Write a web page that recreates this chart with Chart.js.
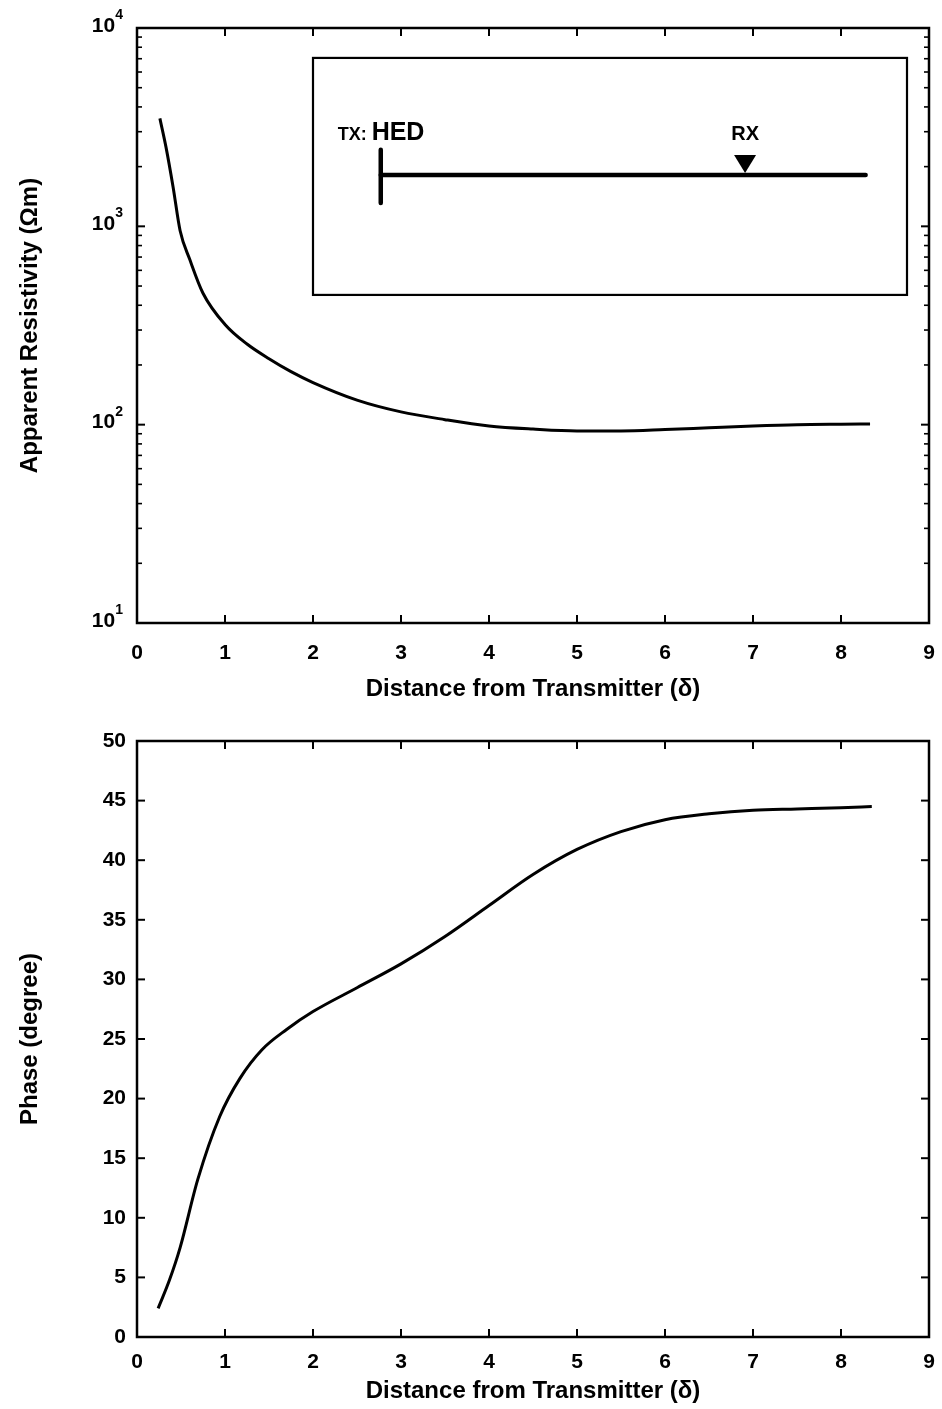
<!DOCTYPE html>
<html><head><meta charset="utf-8">
<script src="https://cdn.jsdelivr.net/npm/chart.js@4/dist/chart.umd.min.js"></script>
<style>
html,body{margin:0;padding:0;background:#fff;}
#wrap{position:relative;width:942px;height:1409px;background:#fff;}
.box{position:absolute;left:0;width:942px;}
canvas{display:block;}
</style></head><body>
<div id="wrap">
<div class="box" style="top:0;height:705px"><canvas id="c1" width="942" height="705"></canvas></div>
<div class="box" style="top:705px;height:704px"><canvas id="c2" width="942" height="704"></canvas></div>
</div>
<script>
// ---- data ----
const distanceRes = [0.26,0.33,0.41,0.49,0.60,0.75,1.0,1.25,1.5,1.75,2.0,2.5,3.0,3.5,4.0,4.5,5.0,5.5,6.0,6.5,7.0,7.5,8.0,8.33];
const resistivity = [3500,2500,1580,950,680,460,320,255,215,185,163,133,116,106,98.5,95,93,93,94.5,96.5,98.5,100,100.5,100.7];
const distancePhase = [0.24,0.37,0.49,0.69,0.94,1.17,1.42,1.7,2.0,2.5,3.0,3.5,4.0,4.5,5.0,5.5,6.0,6.5,7.0,7.5,8.0,8.35];
const phase = [2.4,4.8,7.5,13.2,18.5,21.7,24.1,25.8,27.3,29.3,31.3,33.6,36.2,38.8,40.9,42.4,43.4,43.9,44.2,44.3,44.4,44.5];
const xTicks = [0,1,2,3,4,5,6,7,8,9];
const phaseTicks = [0,5,10,15,20,25,30,35,40,45,50];
const logTickExponents = [1,2,3,4];
const xTitle = 'Distance from Transmitter (\u03b4)';
const resTitle = 'Apparent Resistivity (\u03a9m)';
const phaseTitle = 'Phase (degree)';

const FONT = '"Liberation Sans", Arial, Helvetica, sans-serif';

function line(ctx,x1,y1,x2,y2){ctx.beginPath();ctx.moveTo(x1,y1);ctx.lineTo(x2,y2);ctx.stroke();}

const matlabAxes = {
  id:'matlabAxes',
  afterDraw(chart, args, opts){
    const {ctx, chartArea:a, scales:{x,y}} = chart;
    ctx.save();
    ctx.strokeStyle='#000';
    ctx.lineWidth=2;
    const major=8, minor=5;
    x.ticks.forEach(t=>{
      const px=x.getPixelForValue(t.value);
      if(px<=a.left+1||px>=a.right-1) return;
      line(ctx,px,a.bottom,px,a.bottom-major);
      line(ctx,px,a.top,px,a.top+major);
    });
    y.ticks.forEach(t=>{
      const py=y.getPixelForValue(t.value);
      if(py<=a.top+1||py>=a.bottom-1) return;
      line(ctx,a.left,py,a.left+major,py);
      line(ctx,a.right,py,a.right-major,py);
    });
    if(opts.logMinor){
      ctx.lineWidth=1.6;
      for(let k=logTickExponents[0];k<logTickExponents[logTickExponents.length-1];k++){
        for(let m=2;m<=9;m++){
          const py=y.getPixelForValue(m*Math.pow(10,k));
          line(ctx,a.left,py,a.left+minor,py);
          line(ctx,a.right,py,a.right-minor,py);
        }
      }
      // log tick labels 10^k
      ctx.fillStyle='#000';
      ctx.textBaseline='middle';
      logTickExponents.forEach(k=>{
        const py=y.getPixelForValue(Math.pow(10,k));
        ctx.font='bold 14px '+FONT;
        ctx.textAlign='right';
        const ew=ctx.measureText(String(k)).width;
        ctx.fillText(String(k), a.left-14, py-13);
        ctx.font='bold 21px '+FONT;
        ctx.fillText('10', a.left-14-ew, py-2);
      });
    }
    ctx.lineWidth=2.5;
    ctx.strokeRect(a.left, a.top, a.right-a.left, a.bottom-a.top);
    ctx.restore();
  }
};

const inset = {
  id:'inset',
  afterDraw(chart){
    const {ctx, scales:{x,y}} = chart;
    const X=v=>x.getPixelForValue(v), Y=v=>y.getPixelForValue(v);
    ctx.save();
    ctx.strokeStyle='#000'; ctx.fillStyle='#000';
    // box
    ctx.lineWidth=2.2;
    ctx.strokeRect(X(2.0), Y(7065), X(8.75)-X(2.0), Y(451)-Y(7065));
    // transmitter bar and line
    ctx.lineWidth=4.5; ctx.lineCap='round';
    line(ctx, X(2.77), Y(2430), X(2.77), Y(1311));
    line(ctx, X(2.77), Y(1815), X(8.28), Y(1815));
    // receiver triangle
    const tx=X(6.91), ty=Y(1815)-2;
    ctx.beginPath();
    ctx.moveTo(tx-11, ty-18); ctx.lineTo(tx+11, ty-18); ctx.lineTo(tx, ty); ctx.closePath(); ctx.fill();
    // labels
    ctx.textBaseline='alphabetic'; ctx.textAlign='left';
    const by = Y(1815)-35;
    ctx.font='bold 18px '+FONT;
    ctx.fillText('TX:', X(2.28), by);
    const w=ctx.measureText('TX: ').width;
    ctx.font='bold 25px '+FONT;
    ctx.fillText('HED', X(2.28)+w, by);
    ctx.font='bold 20px '+FONT;
    ctx.textAlign='center';
    ctx.fillText('RX', tx, by);
    ctx.restore();
  }
};

function xScale(titlePad, tickPad, h){
  return {
    type:'linear', min:0, max:9, position:'bottom',
    afterBuildTicks:s=>{s.ticks=xTicks.map(v=>({value:v}));},
    afterFit:s=>{s.height=h; s.paddingLeft=0; s.paddingRight=0;},
    grid:{display:false, drawTicks:false},
    border:{display:false},
    ticks:{color:'#000', padding:tickPad, font:{family:FONT, size:21, weight:'bold'}, maxRotation:0, autoSkip:false},
    title:{display:true, text:xTitle, color:'#000', font:{family:FONT, size:24, weight:'bold'}, padding:{top:0,bottom:titlePad}}
  };
}

new Chart(document.getElementById('c1'), {
  type:'line',
  data:{datasets:[{data:distanceRes.map((d,i)=>({x:d,y:resistivity[i]})), borderColor:'#000', borderWidth:3, pointRadius:0, cubicInterpolationMode:'monotone', fill:false}]},
  options:{
    responsive:false, animation:false,
    layout:{padding:{top:28,right:13,left:0,bottom:0}},
    plugins:{legend:{display:false}, tooltip:{enabled:false}, matlabAxes:{logMinor:true}},
    scales:{
      x:xScale(1,18,82),
      y:{
        type:'logarithmic', min:10, max:10000,
        afterBuildTicks:s=>{s.ticks=logTickExponents.map(k=>({value:Math.pow(10,k)}));},
        afterFit:s=>{s.width=137; s.paddingTop=0; s.paddingBottom=0;},
        grid:{display:false, drawTicks:false}, border:{display:false},
        ticks:{display:false},
        title:{display:true, text:resTitle, color:'#000', font:{family:FONT, size:24, weight:'bold'}, padding:{top:16,bottom:0}}
      }
    }
  },
  plugins:[matlabAxes, inset]
});

new Chart(document.getElementById('c2'), {
  type:'line',
  data:{datasets:[{data:distancePhase.map((d,i)=>({x:d,y:phase[i]})), borderColor:'#000', borderWidth:3, pointRadius:0, cubicInterpolationMode:'monotone', fill:false}]},
  options:{
    responsive:false, animation:false,
    layout:{padding:{top:36,right:13,left:0,bottom:0}},
    plugins:{legend:{display:false}, tooltip:{enabled:false}, matlabAxes:{logMinor:false}},
    scales:{
      x:xScale(3,13,72),
      y:{
        type:'linear', min:0, max:50,
        afterBuildTicks:s=>{s.ticks=phaseTicks.map(v=>({value:v}));},
        afterFit:s=>{s.width=137; s.paddingTop=0; s.paddingBottom=0;},
        grid:{display:false, drawTicks:false}, border:{display:false},
        ticks:{color:'#000', padding:11, font:{family:FONT, size:21, weight:'bold'}},
        title:{display:true, text:phaseTitle, color:'#000', font:{family:FONT, size:24, weight:'bold'}, padding:{top:16,bottom:0}}
      }
    }
  },
  plugins:[matlabAxes]
});
</script>
</body></html>
